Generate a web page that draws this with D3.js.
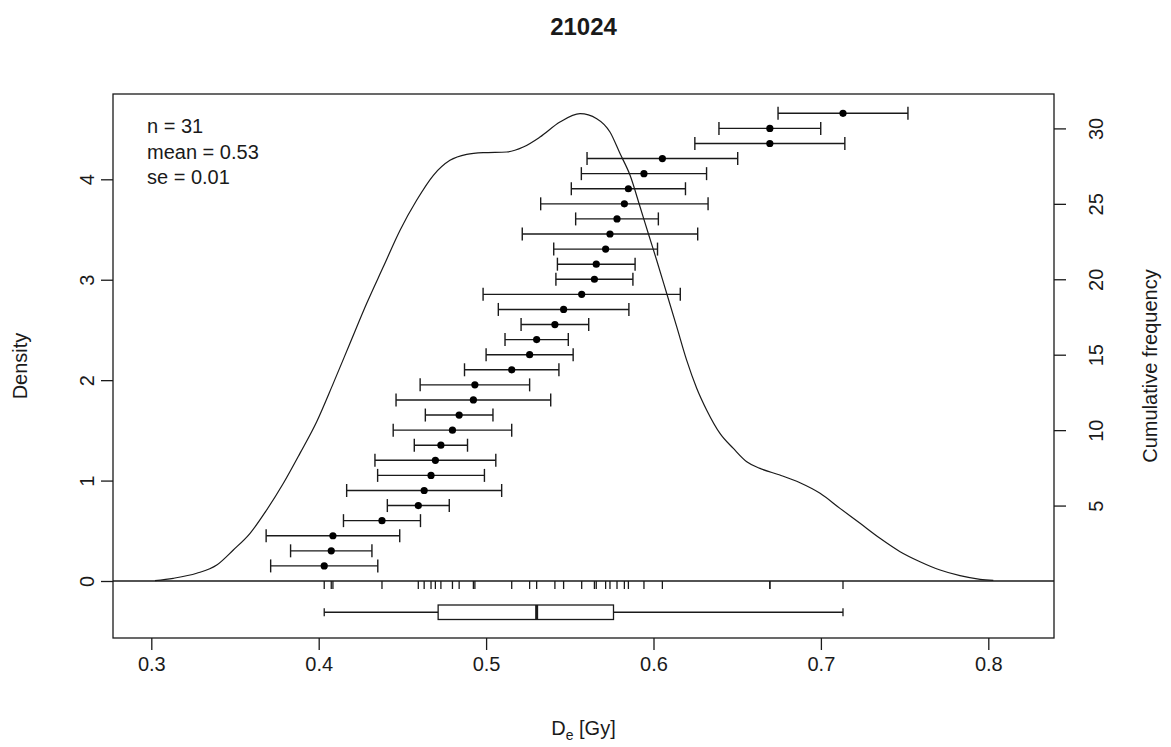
<!DOCTYPE html>
<html>
<head>
<meta charset="utf-8">
<script src="https://cdn.jsdelivr.net/npm/d3@7"></script>
<style>
  body { margin: 0; background: #fff; }
  text { font-family: "Liberation Sans", Arial, sans-serif; fill: #1a1a1a; }
</style>
</head>
<body>
<svg id="chart" width="1171" height="747"></svg>
<script>
// De values (sorted) and their standard errors
var deValues = [0.4033, 0.4075, 0.4085, 0.4378, 0.4595, 0.4630, 0.4671, 0.4697, 0.4730, 0.4799,
                0.4839, 0.4924, 0.4933, 0.5153, 0.5260, 0.5302, 0.5411, 0.5463, 0.5571, 0.5647,
                0.5658, 0.5714, 0.5740, 0.5782, 0.5826, 0.5850, 0.5943, 0.6053, 0.6695, 0.6695, 0.7132];
var deErrors = [0.0320, 0.0243, 0.0399, 0.0230, 0.0185, 0.0463, 0.0319, 0.0361, 0.0159, 0.0354,
                0.0202, 0.0462, 0.0327, 0.0282, 0.0260, 0.0189, 0.0202, 0.0390, 0.0589, 0.0230,
                0.0232, 0.0310, 0.0524, 0.0247, 0.0500, 0.0341, 0.0374, 0.0450, 0.0448, 0.0304, 0.0388];

// kernel density curve
var kdeX = [0.3022, 0.3131, 0.3271, 0.3391, 0.3490, 0.3590, 0.3689, 0.3789, 0.3888, 0.3988,
            0.4087, 0.4187, 0.4287, 0.4386, 0.4486, 0.4585, 0.4685, 0.4784, 0.4884, 0.4983,
            0.5123, 0.5222, 0.5322, 0.5441, 0.5561, 0.5661, 0.5740, 0.5800, 0.5860, 0.5920,
            0.5969, 0.6019, 0.6079, 0.6139, 0.6198, 0.6258, 0.6318, 0.6397, 0.6477, 0.6557,
            0.6636, 0.6755, 0.6875, 0.6995, 0.7114, 0.7234, 0.7353, 0.7473, 0.7592, 0.7712,
            0.7831, 0.7951, 0.8030];
var kdeY = [0.003, 0.027, 0.077, 0.159, 0.309, 0.475, 0.707, 0.973, 1.271, 1.586,
            1.968, 2.367, 2.765, 3.128, 3.493, 3.791, 4.040, 4.189, 4.249, 4.266,
            4.272, 4.321, 4.421, 4.570, 4.654, 4.604, 4.471, 4.256, 4.040, 3.724,
            3.460, 3.194, 2.863, 2.530, 2.199, 1.920, 1.701, 1.470, 1.320, 1.187,
            1.121, 1.055, 0.978, 0.873, 0.723, 0.574, 0.425, 0.292, 0.192, 0.109,
            0.053, 0.017, 0.007];

var xTicks = [0.3, 0.4, 0.5, 0.6, 0.7, 0.8];
var densityTicks = [0, 1, 2, 3, 4];
var cumTicks = [5, 10, 15, 20, 25, 30];
var chartTitle = "21024";
var statLines = ["n = 31", "mean = 0.53", "se = 0.01"];

var svg = d3.select("#chart");
var ink = "#1a1a1a";

// plot frame (names avoid window.top etc.)
var frameL = 113, frameR = 1054, frameT = 94, frameB = 638;
var midY = (frameT + frameB) / 2;

var x = d3.scaleLinear().domain([0.3, 0.8]).range([151.3, 988.3]);
var yDens = d3.scaleLinear().domain([0, 4]).range([581, 179.3]);
var yCum = d3.scaleLinear().domain([0, 30]).range([581, 128.4]);

svg.append("rect").attr("width", 1171).attr("height", 747).attr("fill", "#fff");

// title
svg.append("text")
  .attr("x", (frameL + frameR) / 2).attr("y", 35)
  .attr("text-anchor", "middle")
  .style("font-size", "24px").style("font-weight", "bold")
  .text(chartTitle);

// density curve
var line = d3.line()
  .x(function(d) { return x(d[0]); })
  .y(function(d) { return yDens(d[1]); })
  .curve(d3.curveMonotoneX);

svg.append("path")
  .datum(d3.zip(kdeX, kdeY))
  .attr("d", line)
  .attr("fill", "none")
  .attr("stroke", ink)
  .attr("stroke-width", 1.2);

// zero line
svg.append("line")
  .attr("x1", frameL).attr("x2", frameR)
  .attr("y1", yDens(0)).attr("y2", yDens(0))
  .attr("stroke", ink).attr("stroke-width", 1.3);

// error bars, cumulative
var bars = svg.append("g").selectAll("g")
  .data(deValues)
  .enter()
  .append("g");

bars.append("line")
  .attr("x1", function(d, i) { return x(d - deErrors[i]); })
  .attr("x2", function(d, i) { return x(d + deErrors[i]); })
  .attr("y1", function(d, i) { return yCum(i + 1); })
  .attr("y2", function(d, i) { return yCum(i + 1); })
  .attr("stroke", ink).attr("stroke-width", 1.4);

bars.append("line")
  .attr("x1", function(d, i) { return x(d - deErrors[i]); })
  .attr("x2", function(d, i) { return x(d - deErrors[i]); })
  .attr("y1", function(d, i) { return yCum(i + 1) - 6.5; })
  .attr("y2", function(d, i) { return yCum(i + 1) + 6.5; })
  .attr("stroke", ink).attr("stroke-width", 1.4);

bars.append("line")
  .attr("x1", function(d, i) { return x(d + deErrors[i]); })
  .attr("x2", function(d, i) { return x(d + deErrors[i]); })
  .attr("y1", function(d, i) { return yCum(i + 1) - 6.5; })
  .attr("y2", function(d, i) { return yCum(i + 1) + 6.5; })
  .attr("stroke", ink).attr("stroke-width", 1.4);

bars.append("circle")
  .attr("cx", function(d) { return x(d); })
  .attr("cy", function(d, i) { return yCum(i + 1); })
  .attr("r", 3.6)
  .attr("fill", "#000");

// rug
svg.append("g").selectAll("line")
  .data(deValues)
  .enter()
  .append("line")
  .attr("x1", function(d) { return x(d); })
  .attr("x2", function(d) { return x(d); })
  .attr("y1", yDens(0))
  .attr("y2", yDens(0) + 8)
  .attr("stroke", ink).attr("stroke-width", 1.3);

// boxplot
var sorted = deValues.slice().sort(d3.ascending);
var n = sorted.length;
var med = d3.median(sorted);
var lowerHinge = d3.median(sorted.slice(0, Math.ceil(n / 2)));
var upperHinge = d3.median(sorted.slice(Math.floor(n / 2)));
var boxTop = 605, boxBot = 619.5, boxMid = (boxTop + boxBot) / 2;

var box = svg.append("g").attr("stroke", ink).attr("fill", "none");
box.append("line").attr("x1", x(sorted[0])).attr("x2", x(lowerHinge))
  .attr("y1", boxMid).attr("y2", boxMid).attr("stroke-width", 1.3);
box.append("line").attr("x1", x(upperHinge)).attr("x2", x(sorted[n - 1]))
  .attr("y1", boxMid).attr("y2", boxMid).attr("stroke-width", 1.3);
[sorted[0], sorted[n - 1]].forEach(function(v) {
  box.append("line").attr("x1", x(v)).attr("x2", x(v))
    .attr("y1", boxMid - 4).attr("y2", boxMid + 4).attr("stroke-width", 1.3);
});
box.append("rect")
  .attr("x", x(lowerHinge)).attr("y", boxTop)
  .attr("width", x(upperHinge) - x(lowerHinge)).attr("height", boxBot - boxTop)
  .attr("fill", "#fff").attr("stroke-width", 1.3);
box.append("line").attr("x1", x(med)).attr("x2", x(med))
  .attr("y1", boxTop).attr("y2", boxBot).attr("stroke-width", 3);

// frame
svg.append("rect")
  .attr("x", frameL).attr("y", frameT)
  .attr("width", frameR - frameL).attr("height", frameB - frameT)
  .attr("fill", "none").attr("stroke", ink).attr("stroke-width", 1.3);

// axes
var xAxis = svg.append("g")
  .attr("transform", "translate(0," + frameB + ")")
  .call(d3.axisBottom(x).tickValues(xTicks).tickSize(12).tickPadding(7).tickFormat(d3.format(".1f")));

var leftAxis = svg.append("g")
  .attr("transform", "translate(" + frameL + ",0)")
  .call(d3.axisLeft(yDens).tickValues(densityTicks).tickSize(12).tickFormat(d3.format("d")));

var rightAxis = svg.append("g")
  .attr("transform", "translate(" + frameR + ",0)")
  .call(d3.axisRight(yCum).tickValues(cumTicks).tickSize(12).tickFormat(d3.format("d")));

[xAxis, leftAxis, rightAxis].forEach(function(a) {
  a.select(".domain").remove();
  a.selectAll(".tick line").attr("stroke", ink).attr("stroke-width", 1.3);
  a.selectAll(".tick text").style("font-size", "20px").attr("fill", ink);
});

leftAxis.selectAll(".tick text")
  .attr("transform", "rotate(-90)")
  .attr("text-anchor", "middle")
  .attr("x", 0).attr("y", -19).attr("dy", null);

rightAxis.selectAll(".tick text")
  .attr("transform", "rotate(-90)")
  .attr("text-anchor", "middle")
  .attr("x", 0).attr("y", 49).attr("dy", null);

// axis titles
var xLab = svg.append("text")
  .attr("x", (frameL + frameR) / 2).attr("y", 735)
  .attr("text-anchor", "middle")
  .style("font-size", "20px");
xLab.append("tspan").text("D");
xLab.append("tspan").attr("dy", 5).style("font-size", "14px").text("e");
xLab.append("tspan").attr("dy", -5).text(" [Gy]");

svg.append("text")
  .attr("transform", "translate(27," + midY + ") rotate(-90)")
  .attr("text-anchor", "middle")
  .style("font-size", "20px")
  .text("Density");

svg.append("text")
  .attr("transform", "translate(1157," + midY + ") rotate(-90)")
  .attr("text-anchor", "middle")
  .style("font-size", "20px")
  .text("Cumulative frequency");

// stats
svg.append("g").selectAll("text")
  .data(statLines)
  .enter()
  .append("text")
  .attr("x", 147)
  .attr("y", function(d, i) { return 133 + i * 25.5; })
  .style("font-size", "20px")
  .text(function(d) { return d; });
</script>
</body>
</html>
